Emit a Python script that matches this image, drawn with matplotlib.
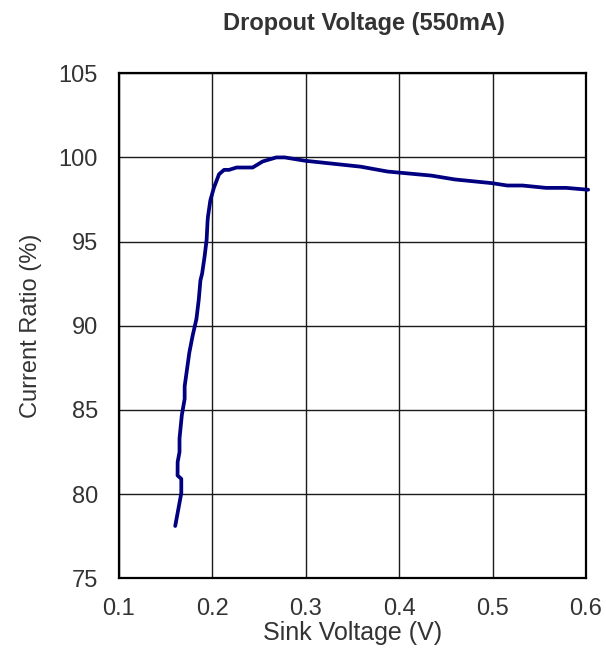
import matplotlib.pyplot as plt
import numpy as np

plt.rcParams["font.family"] = ["Liberation Sans", "DejaVu Sans"]

# Sink voltage (V) vs current ratio (%)
sink_voltage = [
    0.1604, 0.1669, 0.1669, 0.1629, 0.1630, 0.1650, 0.1650, 0.1675, 0.1705,
    0.1705, 0.1730, 0.1755, 0.1790, 0.1831, 0.1856, 0.1874, 0.1892, 0.1918,
    0.1940, 0.1950, 0.1955, 0.1980, 0.2018, 0.2073, 0.2127, 0.2180, 0.2260,
    0.2433, 0.2540, 0.2686, 0.2776, 0.2996, 0.3588, 0.3877, 0.4345, 0.4597,
    0.4994, 0.5157, 0.5320, 0.5571, 0.5788, 0.6023,
]
current_ratio = [
    78.1, 80.05, 80.9, 81.1, 81.9, 82.5, 83.3, 84.7, 85.65,
    86.4, 87.4, 88.4, 89.4, 90.4, 91.55, 92.7, 93.1, 94.1,
    95.1, 96.2, 96.5, 97.45, 98.2, 99.0, 99.26, 99.26, 99.4,
    99.4, 99.76, 100.0, 100.0, 99.8, 99.45, 99.16, 98.92, 98.69,
    98.47, 98.33, 98.33, 98.19, 98.19, 98.08,
]
x_ticks = [0.1, 0.2, 0.3, 0.4, 0.5, 0.6]
y_ticks = [75, 80, 85, 90, 95, 100, 105]

text_color = "#333333"

fig = plt.figure(figsize=(6.06, 6.60), dpi=100)
ax = fig.add_axes([0.196, 0.124, 0.771, 0.765])

ax.plot(sink_voltage, current_ratio, color="#000080", linewidth=2.7,
        solid_capstyle="round", solid_joinstyle="round", clip_on=False, zorder=3)

ax.set_xlim(0.1, 0.6)
ax.set_ylim(75, 105)
ax.set_xticks(x_ticks)
ax.set_yticks(y_ticks)
ax.set_xticklabels([f"{v:.1f}" for v in x_ticks])
ax.set_yticklabels([str(v) for v in y_ticks])
ax.grid(True, color="#1a1a1a", linewidth=1.0)
ax.set_axisbelow(True)
for spine in ax.spines.values():
    spine.set_color("black")
    spine.set_linewidth(1.6)
ax.tick_params(axis="both", length=0, labelsize=17, labelcolor=text_color)
ax.tick_params(axis="y", pad=15)
ax.tick_params(axis="x", pad=14)

ax.set_xlabel("Sink Voltage (V)", fontsize=18, color=text_color, labelpad=1)
ax.set_ylabel("Current Ratio (%)", fontsize=17, color=text_color, labelpad=12)
fig.text(0.601, 0.964, "Dropout Voltage (550mA)", fontsize=17, fontweight="bold",
         color=text_color, ha="center", va="center")

fig.savefig("out.png", dpi=100)
